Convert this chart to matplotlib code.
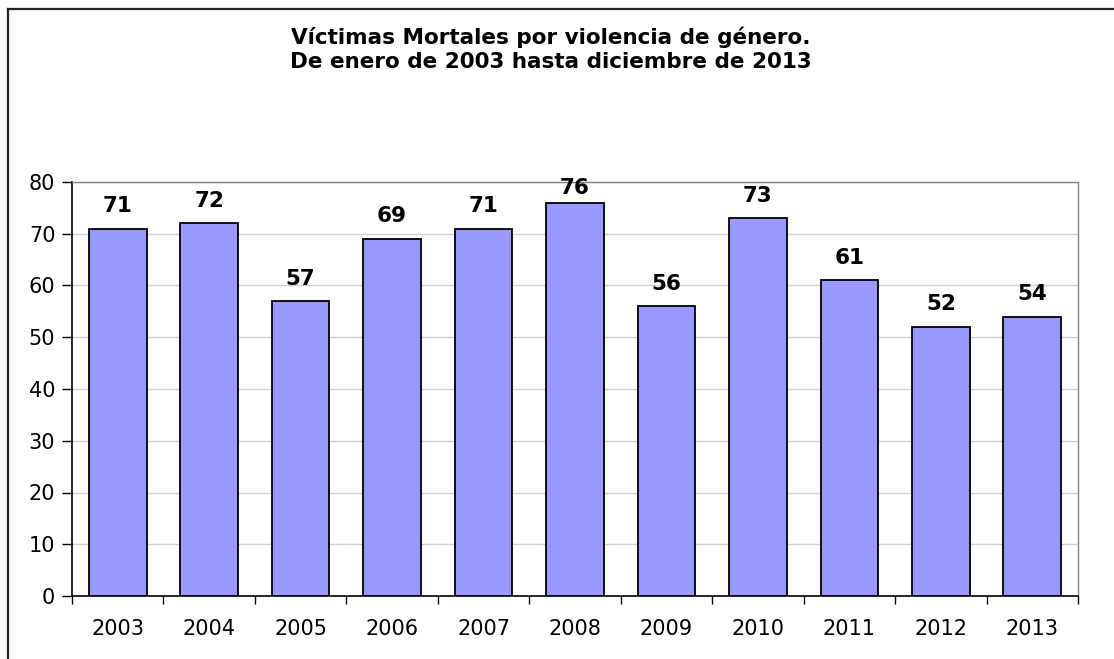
import matplotlib
matplotlib.use("Agg")
import matplotlib.pyplot as plt
from matplotlib.lines import Line2D
import numpy as np

years = ["2003", "2004", "2005", "2006", "2007", "2008", "2009", "2010", "2011", "2012", "2013"]
victims = [71, 72, 57, 69, 71, 76, 56, 73, 61, 52, 54]
title_text = "Víctimas Mortales por violencia de género.\nDe enero de 2003 hasta diciembre de 2013"

plt.rcParams['font.family'] = ['DejaVu Sans']

W, H = 1114, 659
fig = plt.figure(figsize=(W / 100, H / 100), dpi=100)
fig.patch.set_facecolor("white")
ax = fig.add_axes([72/W, 1 - 596/H, (1078 - 72)/W, (596 - 182)/H])

x = np.arange(len(years))
bars = ax.bar(x, victims, width=0.63, color="#9999FF", edgecolor="black", linewidth=1.3, zorder=3)

ax.set_xlim(-0.5, len(years) - 0.5)
ax.set_ylim(0, 80)

# value labels: baseline ~16px above bar top, but kept below the chart title area
label_px = 15.5 * 100 / 72 * 0.73
max_top_px = H - 178
for xi, v in zip(x, victims):
    top_px = ax.transData.transform((xi, v))[1]
    gap = min(16.5, max_top_px - label_px - top_px)
    ax.annotate(str(v), (xi, v), xytext=(0, gap * 0.72), textcoords="offset points",
                ha="center", va="baseline", fontsize=15.5, fontweight="bold", color="black",
                annotation_clip=False)

ax.set_yticks(np.arange(0, 81, 10))
ax.yaxis.grid(True, color="#d0d0d0", linewidth=1, zorder=0)
ax.set_axisbelow(True)

ax.set_xticks(np.arange(-0.5, len(years), 1.0))
ax.set_xticklabels([])
ax.set_xticks(x, minor=True)
ax.set_xticklabels(years, minor=True)
ax.tick_params(axis="x", which="major", direction="out", length=6, width=1, color="black")
ax.tick_params(axis="x", which="minor", length=0, pad=16.5, labelsize=15)
ax.tick_params(axis="y", direction="out", length=7, width=1, color="black", labelsize=15, pad=5)

for s in ["top", "right"]:
    ax.spines[s].set_color("#808080")
    ax.spines[s].set_linewidth(1)
for s in ["left", "bottom"]:
    ax.spines[s].set_color("black")
    ax.spines[s].set_linewidth(1.2)

fig.text(551/W, 1 - 49.5/H, title_text, ha="center", va="center",
         fontsize=15.5, fontweight="bold", linespacing=1.25)

# outer chart frame (left and top edges visible)
fig.add_artist(Line2D([8/W, 8/W], [0, 1 - 9/H], transform=fig.transFigure, color="#222222", linewidth=1.6))
fig.add_artist(Line2D([8/W, 1], [1 - 9/H, 1 - 9/H], transform=fig.transFigure, color="#222222", linewidth=1.6))

fig.savefig("out.png", dpi=100, facecolor="white")
